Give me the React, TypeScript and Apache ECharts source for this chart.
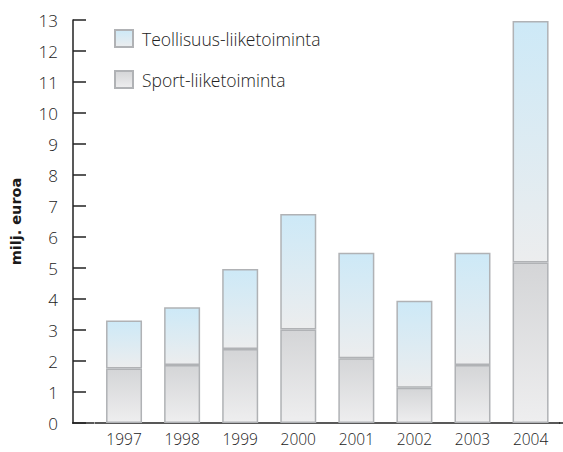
import React, { useEffect, useRef } from "react";
import * as echarts from "echarts";

const years = ["1997", "1998", "1999", "2000", "2001", "2002", "2003", "2004"];
const sport = [1.76, 1.87, 2.39, 3.02, 2.09, 1.14, 1.87, 5.18];
const teollisuus = [1.55, 1.86, 2.58, 3.72, 3.4, 2.8, 3.62, 7.79];
const seriesNames = ["Teollisuus-liiketoiminta", "Sport-liiketoiminta"];
const yTitle = "milj. euroa";

export default function App() {
  const ref = useRef<HTMLDivElement>(null);
  useEffect(() => {
    if (!ref.current) return;
    const chart = echarts.init(ref.current, undefined, { renderer: "svg" });
    const font = "'Open Sans', sans-serif";
    const border = { borderColor: "#b0b2b5", borderWidth: 1.5 };
    const blueGrad = new echarts.graphic.LinearGradient(0, 0, 0, 1, [
      { offset: 0, color: "#cde9f7" },
      { offset: 1, color: "#ecedee" },
    ]);
    const greyGrad = new echarts.graphic.LinearGradient(0, 0, 0, 1, [
      { offset: 0, color: "#d4d5d7" },
      { offset: 1, color: "#eeeeef" },
    ]);
    chart.setOption({
      animation: false,
      backgroundColor: "#ffffff",
      grid: { left: 94, right: 3.4, top: 20, bottom: 29, containLabel: false },
      legend: {
        data: [seriesNames[0], seriesNames[1]],
        orient: "vertical",
        left: 114,
        top: 29,
        padding: 0,
        itemWidth: 18,
        itemHeight: 17,
        itemGap: 22,
        icon: "rect",
        textStyle: { fontFamily: font, fontSize: 17.5, fontWeight: 300, color: "#222", padding: [0, 0, 0, 4] },
      },
      xAxis: {
        type: "category",
        data: years,
        axisLine: { lineStyle: { color: "#222", width: 1.5 } },
        axisTick: { show: false },
        axisLabel: { fontFamily: font, fontSize: 15.5, fontWeight: 300, color: "#222", margin: 8 },
      },
      yAxis: {
        type: "value",
        min: 0,
        max: 13,
        interval: 1,
        offset: 22,
        name: yTitle,
        nameLocation: "middle",
        nameRotate: 90,
        nameGap: 50,
        nameTextStyle: {
          fontFamily: "'DejaVu Sans', sans-serif",
          fontWeight: "bold",
          fontSize: 14.5,
          color: "#1a1a1a",
        },
        axisLine: { show: true, lineStyle: { color: "#222", width: 1.5 } },
        axisTick: { show: true, inside: true, length: 13, lineStyle: { color: "#222", width: 1.5 } },
        axisLabel: { fontFamily: font, fontSize: 17, fontWeight: 300, color: "#222", margin: 15 },
        splitLine: { show: false },
      },
      series: [
        {
          name: seriesNames[1],
          type: "bar",
          stack: "total",
          barWidth: 36,
          data: sport,
          itemStyle: { color: greyGrad, ...border },
        },
        {
          name: seriesNames[0],
          type: "bar",
          stack: "total",
          barWidth: 36,
          data: teollisuus,
          itemStyle: { color: blueGrad, ...border },
        },
      ],
      graphic: [
        {
          type: "line",
          shape: { x1: 72, y1: 423, x2: 94, y2: 423 },
          style: { stroke: "#222", lineWidth: 1.5 },
        },
        {
          type: "line",
          shape: { x1: 559, y1: 423, x2: 563, y2: 423 },
          style: { stroke: "#222", lineWidth: 1.5 },
        },
      ],
    });
    return () => chart.dispose();
  }, []);
  return (
    <div
      ref={ref}
      style={{ position: "fixed", left: 0, top: 0, width: 563, height: 452 }}
    />
  );
}
